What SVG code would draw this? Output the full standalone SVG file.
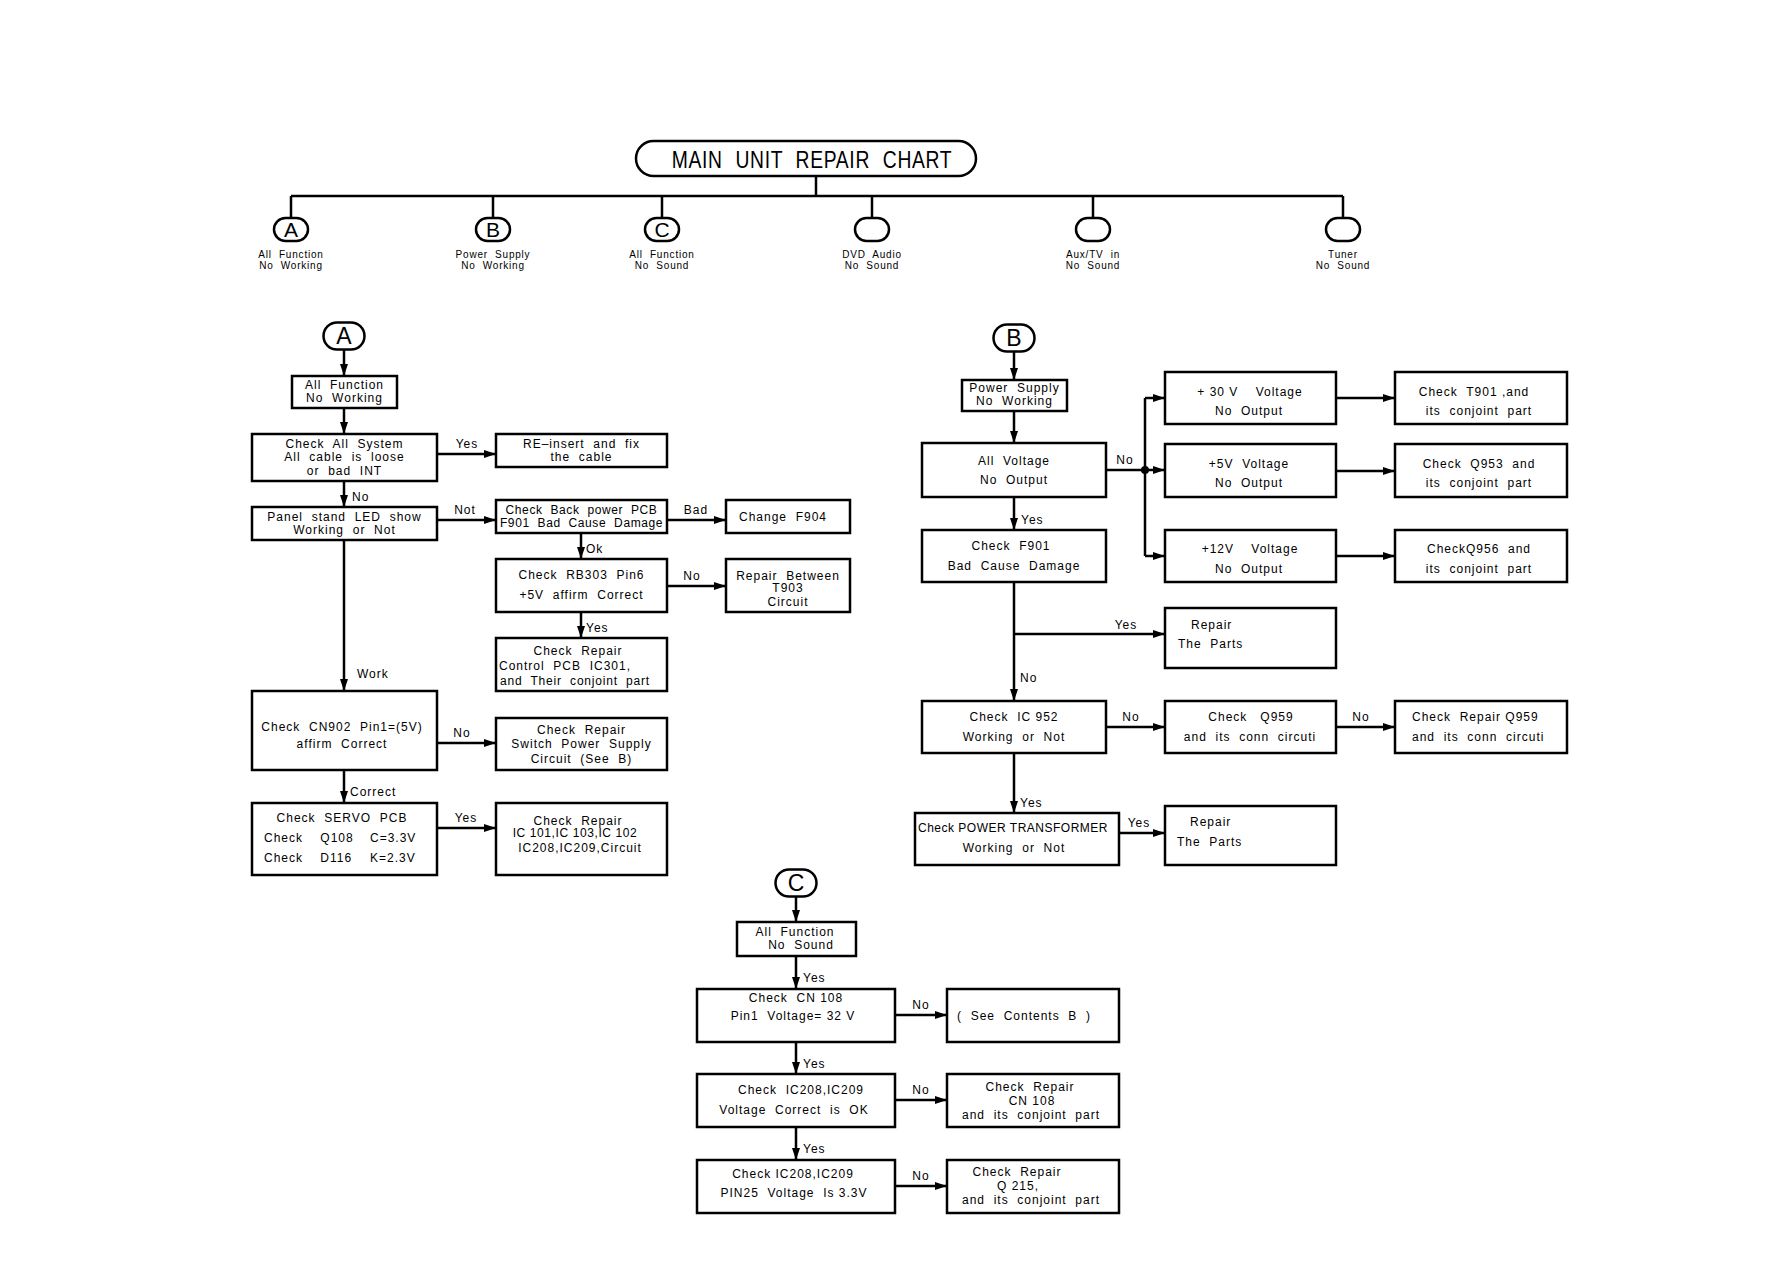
<svg xmlns="http://www.w3.org/2000/svg" width="1787" height="1263" viewBox="0 0 1787 1263" xml:space="preserve">
<style>
text { font-family: "Liberation Sans", Arial, sans-serif; font-size: 12px; letter-spacing: 1px; fill: #000; white-space: pre; }
.c { text-anchor: middle; }
.s { font-size: 10px; letter-spacing: 0.8px; }
.title { font-size: 23px; letter-spacing: 0.8px; word-spacing: 8px; }
.big { font-size: 21px; letter-spacing: 0; }
.box { fill: #fff; stroke: #000; stroke-width: 2.5; }
.ov { fill: #fff; stroke: #000; stroke-width: 2.5; }
.ln { fill: none; stroke: #000; stroke-width: 2.5; }
.ar { fill: none; stroke: #000; stroke-width: 2.5; marker-end: url(#arr); }
</style>
<defs>
<marker id="arr" viewBox="0 0 12 8" refX="12" refY="4" markerWidth="12" markerHeight="8" markerUnits="userSpaceOnUse" orient="auto">
<path d="M0,0 L12,4 L0,8 z" fill="#000"/>
</marker>
</defs>
<rect width="1787" height="1263" fill="#fff"/>

<g id="connectors">
<!-- top tree -->
<path class="ln" d="M816,176 V196 M291,196 H1343 M291,196 V218 M493,196 V218 M662,196 V218 M872,196 V218 M1093,196 V218 M1343,196 V218"/>
<!-- A -->
<path class="ar" d="M344,349.5 V376"/>
<path class="ar" d="M344,408 V434"/>
<path class="ar" d="M437,454 H496"/>
<path class="ar" d="M344,481 V507"/>
<path class="ar" d="M437,520 H496"/>
<path class="ar" d="M667,520 H726"/>
<path class="ar" d="M581,533 V559"/>
<path class="ar" d="M667,586 H726"/>
<path class="ar" d="M581,612 V638"/>
<path class="ar" d="M344,540 V691"/>
<path class="ar" d="M437,743 H496"/>
<path class="ar" d="M344,770 V803"/>
<path class="ar" d="M437,828 H496"/>
<!-- B -->
<path class="ar" d="M1014,351.5 V380"/>
<path class="ar" d="M1014,411 V443"/>
<path class="ln" d="M1106,470 H1145 M1145,398 V556"/>
<circle cx="1145" cy="470" r="4" fill="#000"/>
<path class="ar" d="M1145,398 H1165"/>
<path class="ar" d="M1145,470 H1165"/>
<path class="ar" d="M1145,556 H1165"/>
<path class="ar" d="M1336,398 H1395"/>
<path class="ar" d="M1336,471 H1395"/>
<path class="ar" d="M1336,556 H1395"/>
<path class="ar" d="M1014,497 V530"/>
<path class="ar" d="M1014,582 V701"/>
<path class="ar" d="M1014,634 H1165"/>
<path class="ar" d="M1106,727 H1165"/>
<path class="ar" d="M1336,727 H1395"/>
<path class="ar" d="M1014,753 V813"/>
<path class="ar" d="M1119,833 H1165"/>
<!-- C -->
<path class="ar" d="M796,896.5 V922"/>
<path class="ar" d="M796,956 V989"/>
<path class="ar" d="M895,1015 H947"/>
<path class="ar" d="M796,1042 V1074"/>
<path class="ar" d="M895,1100 H947"/>
<path class="ar" d="M796,1127 V1160"/>
<path class="ar" d="M895,1186 H947"/>
<!-- labels -->
<text class="c" x="467" y="448">Yes</text>
<text x="352" y="501">No</text>
<text class="c" x="465" y="514">Not</text>
<text class="c" x="696" y="514">Bad</text>
<text x="586" y="553">Ok</text>
<text class="c" x="692" y="580">No</text>
<text x="586" y="632">Yes</text>
<text x="357" y="678">Work</text>
<text class="c" x="462" y="737">No</text>
<text x="350" y="796">Correct</text>
<text class="c" x="466" y="822">Yes</text>
<text class="c" x="1125" y="464">No</text>
<text x="1021" y="524">Yes</text>
<text class="c" x="1126" y="629">Yes</text>
<text x="1020" y="682">No</text>
<text class="c" x="1131" y="721">No</text>
<text class="c" x="1361" y="721">No</text>
<text x="1020" y="807">Yes</text>
<text class="c" x="1139" y="827">Yes</text>
<text x="803" y="982">Yes</text>
<text class="c" x="921" y="1009">No</text>
<text x="803" y="1068">Yes</text>
<text class="c" x="921" y="1094">No</text>
<text x="803" y="1153">Yes</text>
<text class="c" x="921" y="1180">No</text>
</g>

<g id="title">
<rect class="ov" x="636" y="141" width="340" height="35" rx="17.5"/>
<text class="c title" transform="translate(812,168) scale(0.84,1)" x="0" y="0">MAIN UNIT REPAIR CHART</text>
</g>

<g id="top-a"><rect class="ov" x="274" y="218" width="34" height="23" rx="11.5"/><text class="c big" x="291" y="237">A</text>
<text class="c s" x="291" y="258">All  Function</text><text class="c s" x="291" y="269">No  Working</text></g>
<g id="top-b"><rect class="ov" x="476" y="218" width="34" height="23" rx="11.5"/><text class="c big" x="493" y="237">B</text>
<text class="c s" x="493" y="258">Power  Supply</text><text class="c s" x="493" y="269">No  Working</text></g>
<g id="top-c"><rect class="ov" x="645" y="218" width="34" height="23" rx="11.5"/><text class="c big" x="662" y="237">C</text>
<text class="c s" x="662" y="258">All  Function</text><text class="c s" x="662" y="269">No  Sound</text></g>
<g id="top-dvd"><rect class="ov" x="855" y="218" width="34" height="23" rx="11.5"/>
<text class="c s" x="872" y="258">DVD  Audio</text><text class="c s" x="872" y="269">No  Sound</text></g>
<g id="top-aux"><rect class="ov" x="1076" y="218" width="34" height="23" rx="11.5"/>
<text class="c s" x="1093" y="258">Aux/TV  in</text><text class="c s" x="1093" y="269">No  Sound</text></g>
<g id="top-tuner"><rect class="ov" x="1326" y="218" width="34" height="23" rx="11.5"/>
<text class="c s" x="1343" y="258">Tuner</text><text class="c s" x="1343" y="269">No  Sound</text></g>

<!-- Section A -->
<g id="a-start"><rect class="ov" x="323.5" y="322.5" width="41" height="27" rx="13.5"/><text class="c big" x="344" y="344" style="font-size:23px">A</text></g>
<g id="a1"><rect class="box" x="292" y="376" width="105" height="32"/>
<text class="c" x="344.5" y="389">All  Function</text><text class="c" x="344.5" y="402">No  Working</text></g>
<g id="a2"><rect class="box" x="252" y="434" width="185" height="47"/>
<text class="c" x="344.5" y="448">Check  All  System</text><text class="c" x="344.5" y="461">All  cable  is  loose</text><text class="c" x="344.5" y="475">or  bad  INT</text></g>
<g id="a-reinsert"><rect class="box" x="496" y="434" width="171" height="33"/>
<text class="c" x="581.5" y="448">RE–insert  and  fix</text><text class="c" x="581.5" y="461">the  cable</text></g>
<g id="a-panel"><rect class="box" x="252" y="507" width="185" height="33"/>
<text class="c" x="344.5" y="521">Panel  stand  LED  show</text><text class="c" x="344.5" y="534">Working  or  Not</text></g>
<g id="a-back"><rect class="box" x="496" y="500" width="171" height="33"/>
<text class="c" x="581.5" y="514" style="letter-spacing:0.6px">Check  Back  power  PCB</text><text class="c" x="581.5" y="527" style="letter-spacing:0.6px">F901  Bad  Cause  Damage</text></g>
<g id="a-f904"><rect class="box" x="726" y="500" width="124" height="33"/>
<text class="c" x="783" y="521">Change  F904</text></g>
<g id="a-rb303"><rect class="box" x="496" y="559" width="171" height="53"/>
<text class="c" x="581.5" y="579">Check  RB303  Pin6</text><text class="c" x="581.5" y="599">+5V  affirm  Correct</text></g>
<g id="a-t903"><rect class="box" x="726" y="559" width="124" height="53"/>
<text class="c" x="788" y="580">Repair  Between</text><text class="c" x="788" y="592">T903</text><text class="c" x="788" y="606">Circuit</text></g>
<g id="a-ctrl"><rect class="box" x="496" y="638" width="171" height="53"/>
<text class="c" x="578" y="655">Check  Repair</text><text x="499" y="670">Control  PCB  IC301,</text><text x="500" y="685" style="letter-spacing:0.8px">and  Their  conjoint  part</text></g>
<g id="a-cn902"><rect class="box" x="252" y="691" width="185" height="79"/>
<text class="c" x="342" y="731">Check  CN902  Pin1=(5V)</text><text class="c" x="342" y="748">affirm  Correct</text></g>
<g id="a-switch"><rect class="box" x="496" y="718" width="171" height="52"/>
<text class="c" x="581.5" y="734">Check  Repair</text><text class="c" x="581.5" y="748">Switch  Power  Supply</text><text class="c" x="581.5" y="763">Circuit  (See  B)</text></g>
<g id="a-servo"><rect class="box" x="252" y="803" width="185" height="72"/>
<text class="c" x="342" y="822">Check  SERVO  PCB</text>
<text x="264" y="842">Check    Q108</text><text x="370" y="842">C=3.3V</text>
<text x="264" y="862">Check    D116</text><text x="370" y="862">K=2.3V</text></g>
<g id="a-ic"><rect class="box" x="496" y="803" width="171" height="72"/>
<text class="c" x="578" y="825">Check  Repair</text><text class="c" x="575" y="837" style="letter-spacing:0.6px">IC 101,IC 103,IC 102</text><text class="c" x="580" y="852">IC208,IC209,Circuit</text></g>

<!-- Section B -->
<g id="b-start"><rect class="ov" x="993.5" y="324.5" width="41" height="27" rx="13.5"/><text class="c big" x="1014" y="346" style="font-size:23px">B</text></g>
<g id="b-ps"><rect class="box" x="962" y="380" width="105" height="31"/>
<text class="c" x="1014.5" y="392">Power  Supply</text><text class="c" x="1014.5" y="405">No  Working</text></g>
<g id="b-allv"><rect class="box" x="922" y="443" width="184" height="54"/>
<text class="c" x="1014" y="465">All  Voltage</text><text class="c" x="1014" y="484">No  Output</text></g>
<g id="b-30"><rect class="box" x="1165" y="372" width="171" height="52"/>
<text class="c" x="1250" y="396">+ 30 V    Voltage</text><text class="c" x="1249" y="415">No  Output</text></g>
<g id="b-5"><rect class="box" x="1165" y="444" width="171" height="53"/>
<text class="c" x="1249" y="468">+5V  Voltage</text><text class="c" x="1249" y="487">No  Output</text></g>
<g id="b-12"><rect class="box" x="1165" y="530" width="171" height="52"/>
<text class="c" x="1250" y="553">+12V    Voltage</text><text class="c" x="1249" y="573">No  Output</text></g>
<g id="b-t901"><rect class="box" x="1395" y="372" width="172" height="52"/>
<text class="c" x="1474" y="396">Check  T901 ,and</text><text class="c" x="1479" y="415">its  conjoint  part</text></g>
<g id="b-q953"><rect class="box" x="1395" y="444" width="172" height="53"/>
<text class="c" x="1479" y="468">Check  Q953  and</text><text class="c" x="1479" y="487">its  conjoint  part</text></g>
<g id="b-q956"><rect class="box" x="1395" y="530" width="172" height="52"/>
<text class="c" x="1479" y="553">CheckQ956  and</text><text class="c" x="1479" y="573">its  conjoint  part</text></g>
<g id="b-f901"><rect class="box" x="922" y="530" width="184" height="52"/>
<text class="c" x="1011" y="550">Check  F901</text><text class="c" x="1014" y="570">Bad  Cause  Damage</text></g>
<g id="b-rep1"><rect class="box" x="1165" y="608" width="171" height="60"/>
<text x="1191" y="629">Repair</text><text x="1178" y="648">The  Parts</text></g>
<g id="b-ic952"><rect class="box" x="922" y="701" width="184" height="52"/>
<text class="c" x="1014" y="721">Check  IC 952</text><text class="c" x="1014" y="741">Working  or  Not</text></g>
<g id="b-q959"><rect class="box" x="1165" y="701" width="171" height="52"/>
<text class="c" x="1251" y="721">Check   Q959</text><text class="c" x="1250" y="741">and  its  conn  circuti</text></g>
<g id="b-rq959"><rect class="box" x="1395" y="701" width="172" height="52"/>
<text x="1412" y="721">Check  Repair Q959</text><text x="1412" y="741">and  its  conn  circuti</text></g>
<g id="b-ptf"><rect class="box" x="915" y="813" width="204" height="52"/>
<text class="c" x="1013" y="832" style="letter-spacing:0.5px">Check POWER TRANSFORMER</text><text class="c" x="1014" y="852">Working  or  Not</text></g>
<g id="b-rep2"><rect class="box" x="1165" y="806" width="171" height="59"/>
<text x="1190" y="826">Repair</text><text x="1177" y="846">The  Parts</text></g>

<!-- Section C -->
<g id="c-start"><rect class="ov" x="775.5" y="869.5" width="41" height="27" rx="13.5"/><text class="c big" x="796" y="891" style="font-size:23px">C</text></g>
<g id="c1"><rect class="box" x="737" y="922" width="119" height="34"/>
<text class="c" x="795" y="936">All  Function</text><text class="c" x="801" y="949">No  Sound</text></g>
<g id="c2"><rect class="box" x="697" y="989" width="198" height="53"/>
<text class="c" x="796" y="1002">Check  CN 108</text><text class="c" x="793" y="1020">Pin1  Voltage= 32 V</text></g>
<g id="c-see"><rect class="box" x="947" y="989" width="172" height="53"/>
<text class="c" x="1024" y="1020">(  See  Contents  B  )</text></g>
<g id="c3"><rect class="box" x="697" y="1074" width="198" height="53"/>
<text class="c" x="801" y="1094">Check  IC208,IC209</text><text class="c" x="794" y="1114">Voltage  Correct  is  OK</text></g>
<g id="c-cn"><rect class="box" x="947" y="1074" width="172" height="53"/>
<text class="c" x="1030" y="1091">Check  Repair</text><text class="c" x="1032" y="1105">CN 108</text><text class="c" x="1031" y="1119">and  its  conjoint  part</text></g>
<g id="c4"><rect class="box" x="697" y="1160" width="198" height="53"/>
<text class="c" x="793" y="1178">Check IC208,IC209</text><text class="c" x="794" y="1197">PIN25  Voltage  Is 3.3V</text></g>
<g id="c-q"><rect class="box" x="947" y="1160" width="172" height="53"/>
<text class="c" x="1017" y="1176">Check  Repair</text><text class="c" x="1018" y="1190">Q 215,</text><text class="c" x="1031" y="1204">and  its  conjoint  part</text></g>
</svg>
